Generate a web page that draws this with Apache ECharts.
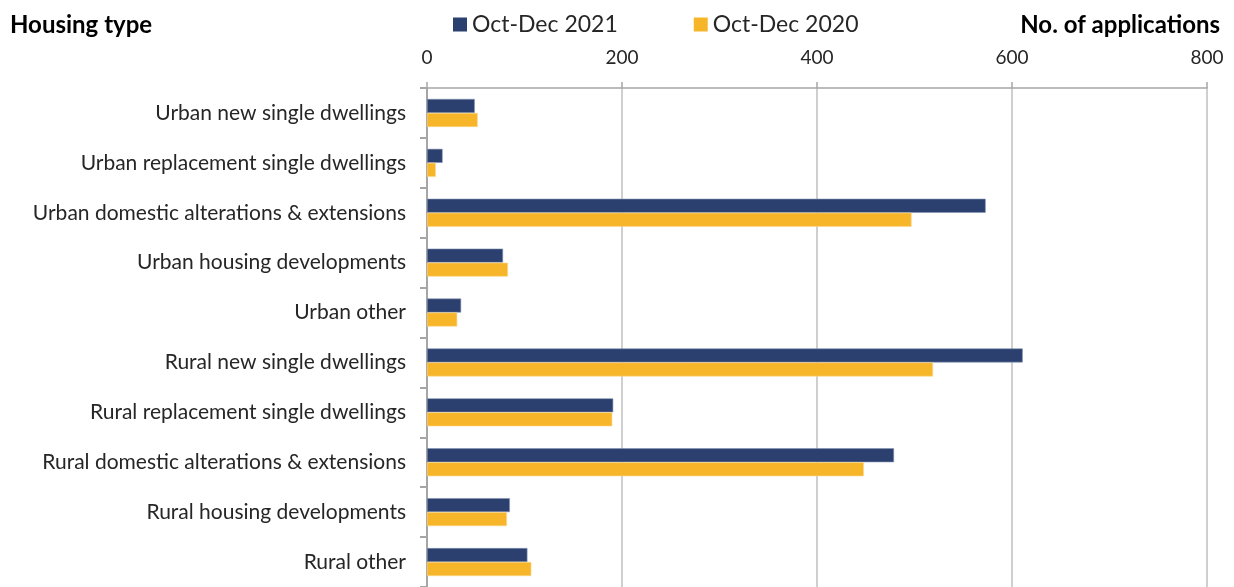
<!DOCTYPE html>
<html>
<head>
<meta charset="utf-8">
<script src="https://cdn.jsdelivr.net/npm/echarts@6/dist/echarts.min.js"></script>
<style>
  html, body { margin: 0; padding: 0; background: #fff; }
  #chart { width: 1234px; height: 587px; }
</style>
</head>
<body>
<div id="chart"></div>
<script>
const categories = [
  'Urban new single dwellings',
  'Urban replacement single dwellings',
  'Urban domestic alterations & extensions',
  'Urban housing developments',
  'Urban other',
  'Rural new single dwellings',
  'Rural replacement single dwellings',
  'Rural domestic alterations & extensions',
  'Rural housing developments',
  'Rural other'
];
const seriesNames = ['Oct-Dec 2021', 'Oct-Dec 2020'];
const values2021 = [49, 16, 573, 78, 35, 611, 191, 479, 85, 103];
const values2020 = [52, 9, 497, 83, 31, 519, 190, 448, 82, 107];
const xTicks = [0, 200, 400, 600, 800];

const font = 'Lato, "Open Sans", sans-serif';
const chart = echarts.init(document.getElementById('chart'));

chart.setOption({
  animation: false,
  color: ['#2b406f', '#f7b62a'],
  textStyle: { fontFamily: font },
  title: [
    { text: 'Housing type', left: 5, top: 8,
      textStyle: { fontFamily: font, fontSize: 24, fontWeight: 'bold', color: '#000' } },
    { text: 'No. of applications', right: 9, top: 8,
      textStyle: { fontFamily: font, fontSize: 24, fontWeight: 'bold', color: '#000' } }
  ],
  legend: {
    data: seriesNames,
    left: 448,
    top: 8,
    itemWidth: 14,
    itemHeight: 14,
    itemGap: 76,
    icon: 'rect',
    itemStyle: { borderWidth: 0 },
    textStyle: { fontFamily: font, fontSize: 23, color: '#262626' }
  },
  grid: { left: 427, right: 27, top: 88, height: 500 },
  xAxis: {
    type: 'value',
    position: 'top',
    min: xTicks[0],
    max: xTicks[xTicks.length - 1],
    interval: 200,
    axisLine: { show: true, lineStyle: { color: '#a6a6a6', width: 1.5 } },
    axisTick: { show: true, length: 6, lineStyle: { color: '#a6a6a6', width: 1.5 } },
    axisLabel: { fontFamily: font, fontSize: 19, color: '#262626', margin: 21 },
    splitLine: { show: true, lineStyle: { color: '#bfbfbf', width: 1.5 } }
  },
  yAxis: {
    type: 'category',
    inverse: true,
    data: categories,
    axisLine: { show: true, lineStyle: { color: '#a6a6a6', width: 2 } },
    axisTick: { show: true, length: 7, lineStyle: { color: '#a6a6a6', width: 2 } },
    axisLabel: { fontFamily: font, fontSize: 21, color: '#262626', margin: 21 }
  },
  series: [
    { name: seriesNames[0], type: 'bar', data: values2021, barWidth: 14, barGap: '0%',
      itemStyle: { borderColor: '#8593b3', borderWidth: 0.6 } },
    { name: seriesNames[1], type: 'bar', data: values2020, barWidth: 14, barGap: '0%',
      itemStyle: { borderColor: '#fbd68a', borderWidth: 0.6 } }
  ]
});
</script>
</body>
</html>
